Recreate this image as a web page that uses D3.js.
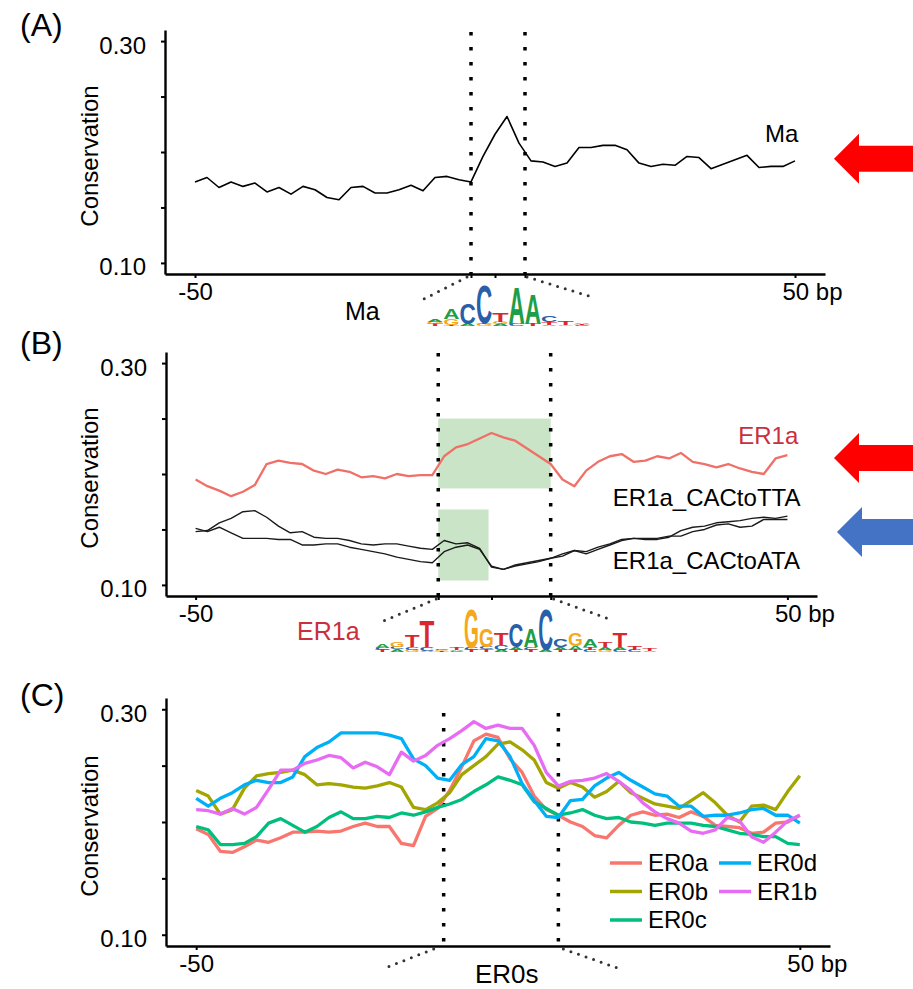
<!DOCTYPE html>
<html lang="en">
<head>
  <meta charset="UTF-8">
  <title>Conservation profiles</title>
  <style>
    body { margin: 0; background: #fff; }
    svg { display: block; }
  </style>
</head>
<body>
<div id="chart"></div>

<script src="https://cdn.jsdelivr.net/npm/d3@7"></script>
<script>
  // x grid shared by every profile (bp from motif centre)
  const positions = d3.range(-50, 51, 2);

  const yTicks = [0.10, 0.15, 0.20, 0.25, 0.30];
  const yTickLabels = ["0.10", "", "", "", "0.30"];
  const xTickLabels = ["-50", "50 bp"];

  // (A) Ma
  const maValues = [0.173, 0.177, 0.168, 0.173, 0.169, 0.172, 0.164, 0.168, 0.162, 0.169,
    0.166, 0.159, 0.157, 0.168, 0.169, 0.163, 0.163, 0.166, 0.170, 0.165,
    0.177, 0.178, 0.175, 0.173, 0.196, 0.216, 0.232, 0.208, 0.192, 0.191,
    0.187, 0.190, 0.204, 0.204, 0.206, 0.206, 0.202, 0.190, 0.187, 0.189,
    0.188, 0.196, 0.195, 0.185, 0.189, 0.193, 0.197, 0.186, 0.187, 0.187, 0.192];

  // (B) ER1a and its two mutants
  const er1aValues = [0.195, 0.189, 0.185, 0.180, 0.184, 0.190, 0.209, 0.212, 0.210, 0.209,
    0.203, 0.200, 0.204, 0.202, 0.197, 0.198, 0.196, 0.200, 0.198, 0.199,
    0.199, 0.216, 0.224, 0.227, 0.232, 0.237, 0.233, 0.230, 0.223, 0.216,
    0.209, 0.195, 0.189, 0.203, 0.211, 0.216, 0.218, 0.211, 0.212, 0.216,
    0.214, 0.219, 0.211, 0.209, 0.206, 0.209, 0.205, 0.202, 0.200, 0.214, 0.217];
  const ttaValues = [0.148, 0.149, 0.156, 0.160, 0.166, 0.167, 0.161, 0.153, 0.147, 0.148,
    0.143, 0.142, 0.142, 0.140, 0.137, 0.136, 0.137, 0.137, 0.135, 0.133,
    0.132, 0.140, 0.137, 0.138, 0.133, 0.116, 0.114, 0.118, 0.120, 0.122,
    0.124, 0.126, 0.131, 0.128, 0.132, 0.136, 0.140, 0.142, 0.141, 0.141,
    0.143, 0.149, 0.152, 0.153, 0.156, 0.157, 0.158, 0.160, 0.161, 0.160, 0.162];
  const ataValues = [0.151, 0.148, 0.152, 0.147, 0.142, 0.142, 0.142, 0.141, 0.141, 0.136,
    0.136, 0.137, 0.137, 0.134, 0.132, 0.130, 0.128, 0.125, 0.123, 0.121,
    0.120, 0.130, 0.134, 0.136, 0.132, 0.117, 0.114, 0.117, 0.119, 0.121,
    0.124, 0.128, 0.131, 0.130, 0.134, 0.137, 0.141, 0.142, 0.142, 0.142,
    0.144, 0.144, 0.148, 0.150, 0.154, 0.155, 0.152, 0.153, 0.159, 0.159, 0.159];

  // (C) ER0s
  const er0aValues = [0.194, 0.189, 0.174, 0.173, 0.178, 0.184, 0.182, 0.186, 0.191, 0.191,
    0.192, 0.191, 0.192, 0.196, 0.199, 0.196, 0.196, 0.181, 0.179, 0.205,
    0.212, 0.228, 0.249, 0.272, 0.278, 0.275, 0.256, 0.244, 0.223, 0.211,
    0.206, 0.200, 0.196, 0.188, 0.186, 0.197, 0.206, 0.209, 0.206, 0.207,
    0.204, 0.209, 0.205, 0.197, 0.196, 0.195, 0.190, 0.191, 0.199, 0.200, 0.206];
  const er0bValues = [0.228, 0.223, 0.207, 0.211, 0.230, 0.241, 0.243, 0.244, 0.246, 0.242,
    0.233, 0.234, 0.233, 0.231, 0.230, 0.232, 0.235, 0.231, 0.213, 0.211,
    0.217, 0.226, 0.242, 0.250, 0.258, 0.269, 0.271, 0.264, 0.255, 0.235,
    0.230, 0.235, 0.231, 0.222, 0.227, 0.236, 0.226, 0.221, 0.216, 0.214,
    0.212, 0.219, 0.226, 0.217, 0.206, 0.200, 0.214, 0.215, 0.211, 0.227, 0.241];
  const er0cValues = [0.196, 0.193, 0.180, 0.180, 0.181, 0.187, 0.199, 0.203, 0.197, 0.191,
    0.196, 0.204, 0.209, 0.203, 0.203, 0.205, 0.204, 0.208, 0.206, 0.209,
    0.213, 0.216, 0.220, 0.227, 0.233, 0.240, 0.237, 0.233, 0.218, 0.212,
    0.206, 0.208, 0.211, 0.206, 0.203, 0.204, 0.200, 0.199, 0.197, 0.199,
    0.199, 0.199, 0.197, 0.196, 0.193, 0.190, 0.189, 0.187, 0.187, 0.181, 0.180];
  const er0dValues = [0.221, 0.214, 0.221, 0.226, 0.233, 0.237, 0.235, 0.235, 0.240, 0.258,
    0.266, 0.271, 0.279, 0.279, 0.279, 0.279, 0.277, 0.274, 0.256, 0.250,
    0.239, 0.237, 0.251, 0.258, 0.274, 0.272, 0.258, 0.234, 0.219, 0.205,
    0.204, 0.219, 0.220, 0.232, 0.239, 0.244, 0.237, 0.231, 0.225, 0.223,
    0.214, 0.214, 0.205, 0.206, 0.206, 0.208, 0.211, 0.212, 0.206, 0.206, 0.199];
  const er1bValues = [0.211, 0.210, 0.207, 0.212, 0.207, 0.213, 0.229, 0.246, 0.246, 0.252,
    0.255, 0.259, 0.257, 0.248, 0.253, 0.249, 0.242, 0.262, 0.254, 0.259,
    0.268, 0.274, 0.281, 0.289, 0.283, 0.286, 0.283, 0.283, 0.268, 0.244,
    0.232, 0.236, 0.237, 0.239, 0.243, 0.236, 0.228, 0.217, 0.209, 0.203,
    0.199, 0.192, 0.190, 0.193, 0.204, 0.201, 0.187, 0.182, 0.191, 0.201, 0.206];

  const namesC = ["ER0a", "ER0b", "ER0c", "ER0d", "ER1b"];
  const valuesC = [er0aValues, er0bValues, er0cValues, er0dValues, er1bValues];
  const colorsC = ["#F8766D", "#A3A500", "#00BF7D", "#00B0F6", "#E76BF3"];

  // motif boundaries (bp) for the dotted lines
  const motifA = [-4, 5];
  const motifB = [-9, 10];
  const motifC = [-9, 10];

  // green highlight boxes in (B): [x from, x to], [y from, y to]
  const boxX = [[-9, 10], [-9, -0.5]];
  const boxY = [[0.187, 0.250], [0.104, 0.168]];

  // sequence logos, columns bottom -> top, [base, bits]
  const maLogo = [
    [["T", 0.1], ["G", 0.1], ["A", 0.1]],
    [["T", 0.05], ["G", 0.3], ["A", 0.5]],
    [["A", 0.1], ["C", 1.05]],
    [["G", 0.1], ["T", 0.05], ["C", 1.9]],
    [["A", 0.1], ["G", 0.1], ["T", 0.45]],
    [["C", 0.1], ["A", 1.85]],
    [["T", 0.1], ["A", 1.55]],
    [["A", 0.05], ["T", 0.15], ["C", 0.3]],
    [["G", 0.05], ["T", 0.2]],
    [["C", 0.05], ["T", 0.05], ["A", 0.05]]
  ];
  const er1aLogo = [
    [["T", 0.1], ["C", 0.1], ["A", 0.2]],
    [["A", 0.15], ["C", 0.1], ["G", 0.25]],
    [["G", 0.1], ["C", 0.15], ["T", 0.6]],
    [["A", 0.05], ["C", 0.2], ["T", 1.35]],
    [["T", 0.05], ["G", 0.05], ["C", 0.05]],
    [["C", 0.05], ["A", 0.05], ["T", 0.1]],
    [["T", 0.1], ["C", 0.1], ["G", 2.0]],
    [["T", 0.15], ["C", 0.1], ["G", 0.9]],
    [["A", 0.1], ["C", 0.25], ["T", 0.6]],
    [["T", 0.1], ["A", 0.15], ["C", 1.2]],
    [["T", 0.1], ["C", 0.15], ["A", 0.95]],
    [["A", 0.1], ["C", 2.05]],
    [["T", 0.1], ["A", 0.15], ["C", 0.4]],
    [["T", 0.1], ["A", 0.2], ["G", 0.65]],
    [["C", 0.1], ["T", 0.15], ["A", 0.4]],
    [["G", 0.1], ["A", 0.15], ["T", 0.25]],
    [["C", 0.1], ["A", 0.15], ["T", 0.7]],
    [["C", 0.1], ["T", 0.2]],
    [["A", 0.05], ["T", 0.1]]
  ];
  const baseColors = {A: "#1E9E48", C: "#2760A8", G: "#F5A81C", T: "#D8282E"};

  const FONT = "Arial, 'Liberation Sans', Helvetica, sans-serif";
  const labelRed = "#C9303E";

  const svg = d3.select("#chart").append("svg")
    .attr("width", 913)
    .attr("height", 989)
    .attr("font-family", FONT);

  const boxes = [
    {x0: 165, x1: 825, yTop: 30, yBot: 274},
    {x0: 166, x1: 817, yTop: 352, yBot: 596},
    {x0: 166, x1: 830, yTop: 698, yBot: 946}
  ];

  const scalesFor = function (b) {
    return {
      x: d3.scaleLinear().domain([-55, 55]).range([b.x0, b.x1]),
      y: d3.scaleLinear().domain([0.09, 0.31]).range([b.yBot, b.yTop])
    };
  };

  const drawAxes = function (s, b, extraTicks) {
    const gy = svg.append("g")
      .attr("transform", "translate(" + b.x0 + ",0)")
      .call(d3.axisLeft(s.y).tickValues(yTicks)
        .tickFormat((d, i) => yTickLabels[i])
        .tickSize(4).tickSizeOuter(0).tickPadding(15));

    const gx = svg.append("g")
      .attr("transform", "translate(0," + b.yBot + ")")
      .call(d3.axisBottom(s.x).tickValues([-50].concat(extraTicks, [50]))
        .tickFormat(d => d === -50 ? xTickLabels[0] : (d === 50 ? xTickLabels[1] : ""))
        .tickSize(4).tickSizeOuter(0).tickPadding(5));

    [gy, gx].forEach(g => {
      g.attr("font-size", 24).attr("font-family", FONT);
      g.select(".domain").attr("stroke-width", 2.4);
      g.selectAll(".tick line").attr("stroke-width", 2);
      g.selectAll(".tick text").attr("fill", "#000");
    });
    gy.selectAll(".tick text").attr("dy", "0.5em");
    gx.selectAll(".tick text").filter(d => d === 50)
      .attr("text-anchor", "start").attr("x", -13);

    svg.append("text")
      .attr("transform", "translate(98," + ((b.yTop + b.yBot) / 2 + 4) + ") rotate(-90)")
      .attr("text-anchor", "middle")
      .attr("font-size", 24)
      .text("Conservation");
  };

  const drawMotifLines = function (s, b, motif, topGap, fan) {
    svg.selectAll(null)
      .data(motif)
      .enter()
      .append("line")
      .attr("x1", d => s.x(d)).attr("x2", d => s.x(d))
      .attr("y1", b.yTop + topGap).attr("y2", b.yBot)
      .attr("stroke", "#000")
      .attr("stroke-width", 3.5)
      .attr("stroke-dasharray", "3.5 11.5");

    // dotted fans leading down to the logo
    fan.forEach(f => {
      svg.append("line")
        .attr("x1", s.x(f.at) + f.dx0).attr("y1", b.yBot + 3)
        .attr("x2", s.x(f.at) + f.dx1).attr("y2", b.yBot + f.dy)
        .attr("stroke", "#333")
        .attr("stroke-width", 3)
        .attr("stroke-linecap", "round")
        .attr("stroke-dasharray", "0 8");
    });
  };

  const drawArrow = function (tipX, cy, color) {
    const pts = [[tipX, cy], [tipX + 25, cy - 25], [tipX + 25, cy - 13], [913, cy - 13],
      [913, cy + 13], [tipX + 25, cy + 13], [tipX + 25, cy + 25]];
    svg.append("polygon")
      .attr("points", pts.map(p => p.join(",")).join(" "))
      .attr("fill", color);
  };

  const drawLogo = function (columns, x0, x1, baseY) {
    const xb = d3.scaleBand().domain(d3.range(columns.length)).range([x0, x1]);
    const hb = d3.scaleLinear().domain([0, 1]).range([0, 20]);
    columns.forEach((col, i) => {
      let yy = baseY;
      col.forEach(([base, bits]) => {
        const h = hb(bits);
        const t = svg.append("text")
          .attr("font-size", 100)
          .attr("font-weight", "bold")
          .attr("fill", baseColors[base])
          .text(base);
        const w = t.node().getBBox().width;
        t.attr("transform", "translate(" + xb(i) + "," + yy + ") scale(" +
          (xb.bandwidth() / w) + "," + (h / 72) + ")");
        yy -= h;
      });
    });
  };

  const panelLabel = function (txt, yy) {
    svg.append("text").attr("x", 20).attr("y", yy)
      .attr("font-size", 32).text(txt);
  };

  // ---------- (A) ----------
  const sA = scalesFor(boxes[0]);
  drawAxes(sA, boxes[0], [motifA[0], 0, motifA[1]]);
  drawMotifLines(sA, boxes[0], motifA, 2, [
    {at: motifA[0], dx0: -4, dx1: -53, dy: 28},
    {at: motifA[1], dx0: 2, dx1: 67, dy: 23}
  ]);

  const lineA = d3.line()
    .x((d, i) => sA.x(positions[i]))
    .y(d => sA.y(d));

  svg.append("path")
    .datum(maValues)
    .attr("fill", "none")
    .attr("stroke", "#000")
    .attr("stroke-width", 1.6)
    .attr("stroke-linejoin", "round")
    .attr("d", lineA);

  svg.append("text").attr("x", sA.x(45)).attr("y", sA.y(0.209))
    .attr("font-size", 24).text("Ma");
  drawArrow(834, sA.y(0.194), "#FF0000");
  panelLabel("(A)", 36);

  svg.append("text").attr("x", 345).attr("y", 320)
    .attr("font-size", 25).text("Ma");
  drawLogo(maLogo, 427, 590, 326);

  // ---------- (B) ----------
  const sB = scalesFor(boxes[1]);

  svg.selectAll(".hbox")
    .data(boxX)
    .enter()
    .append("rect")
    .attr("class", "hbox")
    .attr("x", d => sB.x(d[0]))
    .attr("width", d => sB.x(d[1]) - sB.x(d[0]))
    .attr("y", (d, i) => sB.y(boxY[i][1]))
    .attr("height", (d, i) => sB.y(boxY[i][0]) - sB.y(boxY[i][1]))
    .attr("fill", "#C9E4C6");

  drawAxes(sB, boxes[1], [motifB[0], 0, motifB[1]]);
  drawMotifLines(sB, boxes[1], motifB, 1, [
    {at: motifB[0], dx0: -2, dx1: -55, dy: 25},
    {at: motifB[1], dx0: 3, dx1: 61, dy: 24}
  ]);

  const lineB = d3.line()
    .x((d, i) => sB.x(positions[i]))
    .y(d => sB.y(d));

  [ttaValues, ataValues].forEach(vals => {
    svg.append("path")
      .datum(vals)
      .attr("fill", "none")
      .attr("stroke", "#1a1a1a")
      .attr("stroke-width", 1.4)
      .attr("stroke-linejoin", "round")
      .attr("d", lineB);
  });

  svg.append("path")
    .datum(er1aValues)
    .attr("fill", "none")
    .attr("stroke", "#F07068")
    .attr("stroke-width", 2.3)
    .attr("stroke-linejoin", "round")
    .attr("d", lineB);

  svg.append("text").attr("x", sB.x(41.7)).attr("y", sB.y(0.227))
    .attr("font-size", 24).attr("fill", labelRed).text("ER1a");
  svg.append("text").attr("x", sB.x(20.5)).attr("y", sB.y(0.171))
    .attr("font-size", 24).text("ER1a_CACtoTTA");
  svg.append("text").attr("x", sB.x(20.5)).attr("y", sB.y(0.1143))
    .attr("font-size", 24).text("ER1a_CACtoATA");

  drawArrow(834, sB.y(0.2144), "#FF0000");
  drawArrow(837, sB.y(0.1477), "#4472C4");
  panelLabel("(B)", 354);

  svg.append("text").attr("x", 297).attr("y", 640)
    .attr("font-size", 25).attr("fill", labelRed).text("ER1a");
  drawLogo(er1aLogo, 375, 657, 652);

  // ---------- (C) ----------
  const sC = scalesFor(boxes[2]);
  drawAxes(sC, boxes[2], []);
  drawMotifLines(sC, boxes[2], motifC, 15, [
    {at: motifC[0], dx0: -10, dx1: -56, dy: 21},
    {at: motifC[1], dx0: 5, dx1: 62, dy: 23}
  ]);

  const lineC = d3.line()
    .x((d, i) => sC.x(positions[i]))
    .y(d => sC.y(d));

  svg.selectAll(".er0")
    .data(valuesC)
    .enter()
    .append("path")
    .attr("class", "er0")
    .attr("fill", "none")
    .attr("stroke", (d, i) => colorsC[i])
    .attr("stroke-width", 3.3)
    .attr("stroke-linejoin", "round")
    .attr("d", lineC);

  // legend: two columns (ER0a-c, ER0d/ER1b)
  const legend = svg.selectAll(".legend")
    .data(namesC)
    .enter()
    .append("g")
    .attr("class", "legend")
    .attr("transform", (d, i) => "translate(" + (i < 3 ? 610 : 719) + "," + (871 + (i % 3) * 28.5) + ")");

  legend.append("line")
    .attr("x1", 0).attr("x2", 32)
    .attr("y1", -8).attr("y2", -8)
    .attr("stroke", (d, i) => colorsC[i])
    .attr("stroke-width", 3.5);

  legend.append("text")
    .attr("x", 38)
    .attr("font-size", 24)
    .text(d => d);

  panelLabel("(C)", 706);

  svg.append("text").attr("x", 475).attr("y", 983)
    .attr("font-size", 26).text("ER0s");
</script>
</body>
</html>
